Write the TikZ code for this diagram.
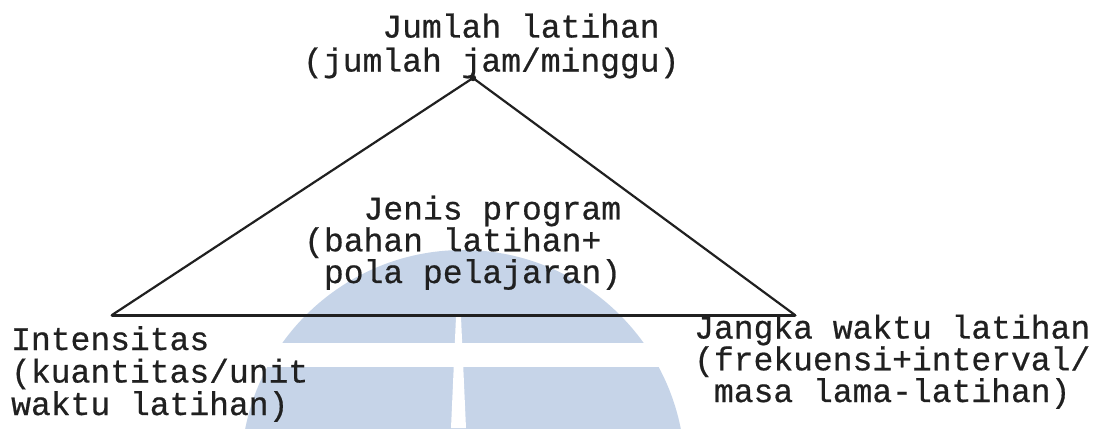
\documentclass[tikz,border=0pt]{standalone}
\usepackage{fontspec}
\newfontfamily\typewriter{Liberation Mono}[FakeBold=0.6]
\definecolor{ink}{RGB}{32,32,32}
\definecolor{markblue}{RGB}{198,212,232}
\begin{document}
\begin{tikzpicture}[x=1bp,y=-1bp,
  typed/.style={font=\typewriter\fontsize{33bp}{#1}\selectfont,
    text=ink, align=left, anchor=base west, inner sep=0pt},
  slope/.style={draw=ink, line width=2.2bp, line cap=round},
  groundline/.style={draw=ink, line width=3bp, line cap=round}]
  \useasboundingbox (0,0) rectangle (1093,428);
  \fill[white] (0,0) rectangle (1093,428);

  % faint emblem behind the diagram
  \begin{scope}
    \clip (0,0) rectangle (1093,428);
    \fill[markblue] (463,472) circle[radius=222bp];
    \fill[white] (0,343) rectangle (1093,367);
    \fill[white] (456,317) -- (461,317) -- (466,428) -- (451,428) -- cycle;
  \end{scope}

  % corners of the triangle
  \coordinate (apex) at (473,78);
  \coordinate (cornerL) at (112,315);
  \coordinate (cornerR) at (795,315);

  \draw[slope] (cornerL) -- (apex) -- (cornerR);
  \draw[groundline] (cornerL) -- (cornerR);
  \fill[ink] (apex) circle[radius=3.2bp];

  % labels (each anchored on the baseline of its last line)
  \node[typed=34bp] (volume) at (303,71.5)
    {\phantom{0000}Jumlah latihan\\(jumlah jam/minggu)};
  \node[typed=29bp] (program) at (304,283)
    {\phantom{000}Jenis program\\(bahan latihan+\\\phantom{0}pola pelajaran)};
  \node[typed=32.5bp] (intensity) at (11,415)
    {Intensitas\\(kuantitas/unit\\waktu latihan)};
  \node[typed=30bp] (duration) at (694,402)
    {Jangka waktu latihan\\(frekuensi+interval/\\\phantom{0}masa lama-latihan)};
\end{tikzpicture}
\end{document}
